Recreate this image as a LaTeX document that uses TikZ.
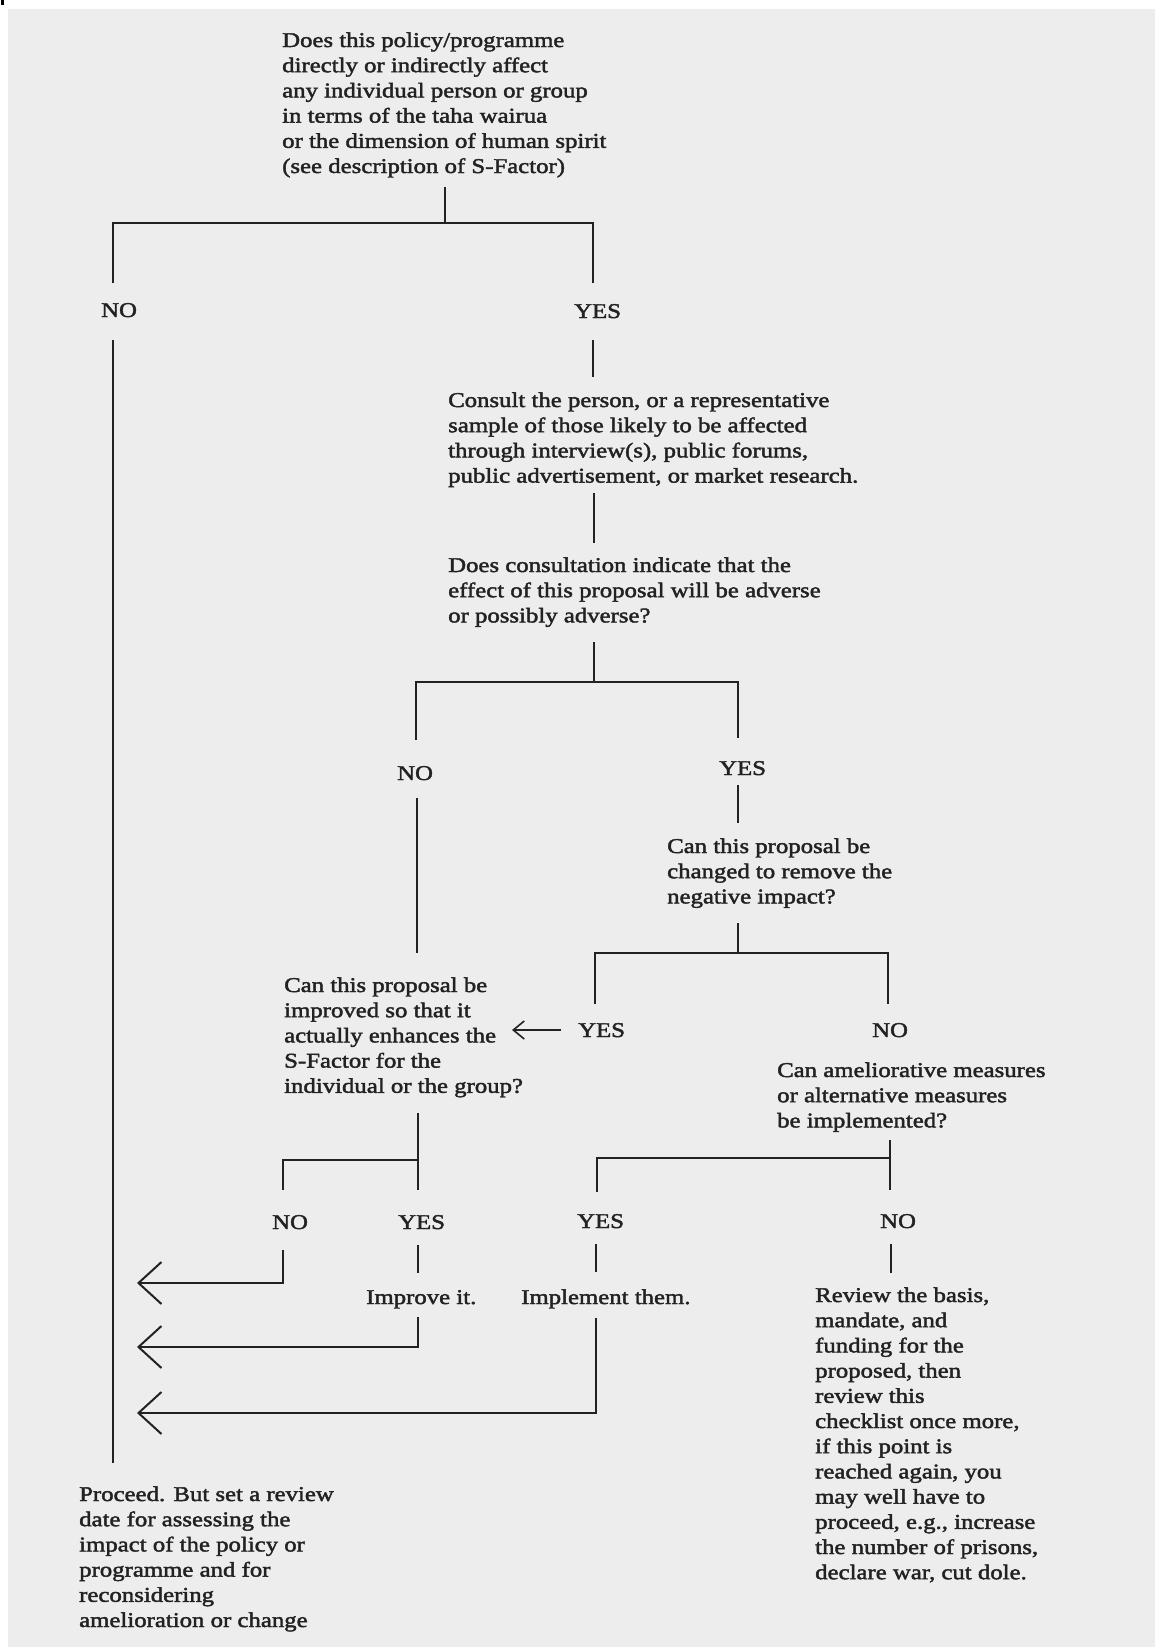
\documentclass[tikz,border=0pt]{standalone}
\usepackage{fontspec}
\setmainfont{Liberation Serif}[FakeStretch=1.18,FakeBold=2]
\usetikzlibrary{arrows.meta}
\definecolor{ink}{HTML}{222222}
\definecolor{paper}{HTML}{EDEDED}
\begin{document}
\begin{tikzpicture}[x=1pt,y=-1pt,
  lbl/.style={anchor=base west,inner sep=0pt,font=\fontsize{21}{25.2}\selectfont,text=ink},
  conn/.style={draw=ink,line width=2pt},
  bigarrow/.style={conn,-{Straight Barb[length=23pt,width=42pt]}},
  smallarrow/.style={conn,line width=1.6pt,-{Straight Barb[length=11pt,width=18pt]}}]
\useasboundingbox (0,0) rectangle (1155,1647);
\fill[white] (0,0) rectangle (1155,1647);
\fill[paper] (8,9) rectangle (1155,1647);
\fill[black] (1,0) rectangle (4,5);

% ---- text blocks ----
\node[lbl] (q1) at (282,47) {\begin{tabular}[t]{@{}l@{}}
Does this policy/programme\\
directly or indirectly affect\\
any individual person or group\\
in terms of the taha wairua\\
or the dimension of human spirit\\
(see description of S-Factor)\end{tabular}};

\node[lbl] (consult) at (448,407) {\begin{tabular}[t]{@{}l@{}}
Consult the person, or a representative\\
sample of those likely to be affected\\
through interview(s), public forums,\\
public advertisement, or market research.\end{tabular}};

\node[lbl] (q2) at (448,572) {\begin{tabular}[t]{@{}l@{}}
Does consultation indicate that the\\
effect of this proposal will be adverse\\
or possibly adverse?\end{tabular}};

\node[lbl] (q3) at (667,853) {\begin{tabular}[t]{@{}l@{}}
Can this proposal be\\
changed to remove the\\
negative impact?\end{tabular}};

\node[lbl] (q4) at (284,992) {\begin{tabular}[t]{@{}l@{}}
Can this proposal be\\
improved so that it\\
actually enhances the\\
S-Factor for the\\
individual or the group?\end{tabular}};

\node[lbl] (q5) at (777,1077) {\begin{tabular}[t]{@{}l@{}}
Can ameliorative measures\\
or alternative measures\\
be implemented?\end{tabular}};

\node[lbl] (improve) at (366,1304) {Improve it.};
\node[lbl] (implement) at (521,1304) {Implement them.};

\node[lbl] (review) at (815,1302) {\begin{tabular}[t]{@{}l@{}}
Review the basis,\\
mandate, and\\
funding for the\\
proposed, then\\
review this\\
checklist once more,\\
if this point is\\
reached again, you\\
may well have to\\
proceed, e.g., increase\\
the number of prisons,\\
declare war, cut dole.\end{tabular}};

\node[lbl] (proceed) at (79,1501) {\begin{tabular}[t]{@{}l@{}}
Proceed. But set a review\\
date for assessing the\\
impact of the policy or\\
programme and for\\
reconsidering\\
amelioration or change\end{tabular}};

% ---- labels ----
\node[lbl] (no1) at (101,317) {NO};
\node[lbl] (yes1) at (574,318) {YES};
\node[lbl] (no2) at (397,780) {NO};
\node[lbl] (yes2) at (719,775) {YES};
\node[lbl] (yes3) at (578,1037) {YES};
\node[lbl] (no3) at (872,1037) {NO};
\node[lbl] (no4) at (272,1229) {NO};
\node[lbl] (yes4) at (398,1229) {YES};
\node[lbl] (yes5) at (577,1228) {YES};
\node[lbl] (no5) at (880,1228) {NO};

% ---- coordinates ----
\coordinate (s1a) at (445,187);
\coordinate (s1b) at (445,223);
\coordinate (l1a) at (113,223);
\coordinate (l1b) at (113,283);
\coordinate (r1a) at (593,223);
\coordinate (r1b) at (593,283);
\coordinate (main1) at (113,340);
\coordinate (main2) at (113,1463);
\coordinate (y1a) at (593,340);
\coordinate (y1b) at (593,377);
\coordinate (c1a) at (594,493);
\coordinate (c1b) at (594,543);
\coordinate (c2a) at (594,642);
\coordinate (c2b) at (594,682);
\coordinate (l2a) at (416,682);
\coordinate (l2b) at (416,740);
\coordinate (r2a) at (738,682);
\coordinate (r2b) at (738,738);
\coordinate (n2a) at (417,798);
\coordinate (n2b) at (417,953);
\coordinate (y2a) at (738,785);
\coordinate (y2b) at (738,823);
\coordinate (c3a) at (738,923);
\coordinate (c3b) at (738,953);
\coordinate (l3a) at (595,953);
\coordinate (l3b) at (595,1004);
\coordinate (r3a) at (888,953);
\coordinate (r3b) at (888,1004);
\coordinate (a3s) at (561,1030);
\coordinate (a3e) at (512,1030);
\coordinate (c4a) at (418,1113);
\coordinate (c4m) at (418,1160);
\coordinate (c4b) at (418,1190);
\coordinate (l4a) at (283,1160);
\coordinate (l4b) at (283,1190);
\coordinate (c5a) at (890,1140);
\coordinate (c5m) at (890,1158);
\coordinate (c5b) at (890,1190);
\coordinate (l5a) at (597,1158);
\coordinate (l5b) at (597,1192);
\coordinate (n4a) at (283,1250);
\coordinate (n4b) at (283,1283);
\coordinate (tip1) at (137,1283);
\coordinate (y4a) at (418,1245);
\coordinate (y4b) at (418,1273);
\coordinate (y4c) at (418,1317);
\coordinate (y4d) at (418,1347);
\coordinate (tip2) at (137,1347);
\coordinate (y5a) at (596,1244);
\coordinate (y5b) at (596,1272);
\coordinate (y5c) at (596,1318);
\coordinate (y5d) at (596,1413);
\coordinate (tip3) at (137,1413);
\coordinate (n5a) at (891,1244);
\coordinate (n5b) at (891,1273);

% ---- connectors ----
\draw[conn] (s1a) -- (s1b);
\draw[conn] (l1b) -- (l1a) -- (r1a) -- (r1b);
\draw[conn] (main1) -- (main2);
\draw[conn] (y1a) -- (y1b);
\draw[conn] (c1a) -- (c1b);
\draw[conn] (c2a) -- (c2b);
\draw[conn] (l2b) -- (l2a) -- (r2a) -- (r2b);
\draw[conn] (n2a) -- (n2b);
\draw[conn] (y2a) -- (y2b);
\draw[conn] (c3a) -- (c3b);
\draw[conn] (l3b) -- (l3a) -- (r3a) -- (r3b);
\draw[smallarrow] (a3s) -- (a3e);
\draw[conn] (c4a) -- (c4b);
\draw[conn] (c4m) -- (l4a) -- (l4b);
\draw[conn] (c5a) -- (c5b);
\draw[conn] (c5m) -- (l5a) -- (l5b);
\draw[bigarrow] (n4a) -- (n4b) -- (tip1);
\draw[conn] (y4a) -- (y4b);
\draw[bigarrow] (y4c) -- (y4d) -- (tip2);
\draw[conn] (y5a) -- (y5b);
\draw[bigarrow] (y5c) -- (y5d) -- (tip3);
\draw[conn] (n5a) -- (n5b);
\end{tikzpicture}
\end{document}
